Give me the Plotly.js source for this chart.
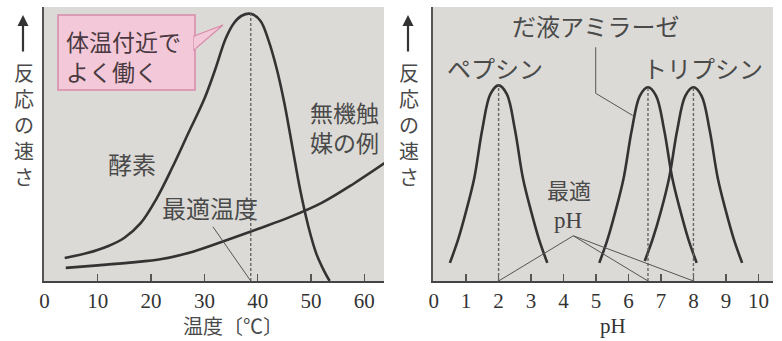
<!DOCTYPE html>
<html>
<head>
<meta charset="utf-8">
<script src="https://cdn.plot.ly/plotly-3.0.1.min.js"></script>
<style>html,body{margin:0;padding:0;background:#fff;}#chart{width:782px;height:341px;}</style>
</head>
<body>
<div id="chart"></div>
<script>
// ---- Data (y is relative reaction speed 0-100) ----
const tempEnzymeX = [3.8, 8, 12, 15, 18, 21, 24, 27, 30, 32, 34, 35.5, 37, 38.7, 40.5, 42, 43.5, 45, 46.5, 48, 49.5, 51, 52.5, 53.5];
const tempEnzymeY = [8.4, 10.2, 12.8, 15.8, 21, 30, 41.5, 54, 66.5, 77, 88.5, 94, 96.8, 97.5, 95, 88, 78, 65, 49, 33, 20, 10, 3.5, 0];
const tempCatalystX = [4, 10, 16, 22, 28, 34, 40, 46, 52, 58, 63.8];
const tempCatalystY = [4.8, 5.7, 6.7, 8, 10.8, 14.8, 19, 23.3, 28.5, 35.5, 43];

const pepsinX  = [0.5, 0.75, 1, 1.25, 1.5, 1.75, 2, 2.25, 2.5, 2.75, 3, 3.25, 3.5];
const pepsinY  = [6.6, 15, 25.5, 37.5, 55.5, 68.3, 71.4, 68.3, 55.5, 37.5, 25.5, 15, 6.6];
const amylaseX = [5.1, 5.35, 5.6, 5.85, 6.1, 6.35, 6.6, 6.85, 7.1, 7.35, 7.6, 7.85, 8.1];
const amylaseY = [6.6, 15, 25.5, 37.5, 55, 67.6, 70.7, 67.6, 55, 37.5, 25.5, 15, 6.6];
const trypsinX = [6.5, 6.75, 7, 7.25, 7.5, 7.75, 8, 8.25, 8.5, 8.75, 9, 9.25, 9.5];
const trypsinY = [7.3, 15.5, 25.5, 37.5, 55, 67.6, 70.7, 67.6, 55, 37.5, 25.5, 15, 6.6];

const tempTicks = [0, 10, 20, 30, 40, 50, 60];
const phTicks = [0, 1, 2, 3, 4, 5, 6, 7, 8, 9, 10];

const yTitleChars = ['反', '応', 'の', '速', 'さ'];
const leftXTitle = '温度〔℃〕';
const rightXTitle = 'pH';
const calloutLines = ['体温付近で', 'よく働く'];

// ---- helpers ----
const W = 782, H = 341;
const PX = x => x / W;
const PY = y => 1 - y / H;
const CJK = '"Noto Sans CJK JP", "Noto Sans", sans-serif';
const SERIF = '"Liberation Serif", "DejaVu Serif", serif';
const TXT = '#4a4a4a';
const CURVE = '#333333';

function peakOf(xs, ys) {
  let i = ys.indexOf(Math.max(...ys));
  return [xs[i], ys[i]];
}

const lineStyle = {color: CURVE, width: 2.6, shape: 'spline', smoothing: 1};
const traces = [
  {x: tempEnzymeX, y: tempEnzymeY, xaxis: 'x', yaxis: 'y', mode: 'lines', line: lineStyle, hoverinfo: 'skip'},
  {x: tempCatalystX, y: tempCatalystY, xaxis: 'x', yaxis: 'y', mode: 'lines', line: lineStyle, hoverinfo: 'skip'},
  {x: pepsinX, y: pepsinY, xaxis: 'x2', yaxis: 'y2', mode: 'lines', line: lineStyle, hoverinfo: 'skip'},
  {x: amylaseX, y: amylaseY, xaxis: 'x2', yaxis: 'y2', mode: 'lines', line: lineStyle, hoverinfo: 'skip'},
  {x: trypsinX, y: trypsinY, xaxis: 'x2', yaxis: 'y2', mode: 'lines', line: lineStyle, hoverinfo: 'skip'}
];

const shapes = [];
const dash = {color: '#666', width: 1.4, dash: '3px,2px'};
function vdash(xr, yr, p) {
  shapes.push({type: 'line', xref: xr, yref: yr, x0: p[0], x1: p[0], y0: 0, y1: p[1], line: dash, layer: 'above'});
}
vdash('x', 'y', peakOf(tempEnzymeX, tempEnzymeY));
vdash('x2', 'y2', peakOf(pepsinX, pepsinY));
vdash('x2', 'y2', peakOf(amylaseX, amylaseY));
vdash('x2', 'y2', peakOf(trypsinX, trypsinY));

const thin = {color: '#555', width: 1};
// 最適温度 leader
shapes.push({type: 'line', xref: 'x', yref: 'y', x0: 31.6, y0: 19.8, x1: peakOf(tempEnzymeX, tempEnzymeY)[0], y1: 0, line: thin});
// 最適pH leaders
[pepsinX, amylaseX, trypsinX].forEach((xs, k) => {
  const ys = [pepsinY, amylaseY, trypsinY][k];
  shapes.push({type: 'line', xref: 'x2', yref: 'y2', x0: 4.3, y0: 16.5, x1: peakOf(xs, ys)[0], y1: 0, line: thin});
});
// だ液アミラーゼ leader
shapes.push({type: 'path', xref: 'x2', yref: 'y2', path: 'M 4.99,85.3 L 4.99,68.5 L 6.13,60.4', line: thin});

// callout box
shapes.push({type: 'rect', xref: 'paper', yref: 'paper', x0: PX(58), x1: PX(195), y0: PY(90), y1: PY(15),
  fillcolor: '#f3c8d8', line: {color: '#d88aa9', width: 1.5}});
shapes.push({type: 'path', xref: 'paper', yref: 'paper',
  path: `M ${PX(194)},${PY(36)} L ${PX(223)},${PY(25)} L ${PX(194)},${PY(50)} Z`,
  fillcolor: '#f3c8d8', line: {color: '#d88aa9', width: 1.2}});
shapes.push({type: 'line', xref: 'paper', yref: 'paper', x0: PX(195), x1: PX(195), y0: PY(37.5), y1: PY(48.5),
  line: {color: '#f3c8d8', width: 2}});

const annotations = [];
function txt(t, x, y, size, opt) {
  annotations.push(Object.assign({text: t, xref: 'paper', yref: 'paper', x: PX(x), y: PY(y), showarrow: false,
    xanchor: 'center', yanchor: 'middle', font: {family: CJK, size: size, color: TXT}}, opt || {}));
}
// y-axis titles (vertical, one text block each)
[24, 409].forEach(cx => {
  txt(yTitleChars.join('<br>'), cx, 124, 20);
  annotations.push({text: '', xref: 'paper', yref: 'paper', x: PX(cx - 1), y: PY(15), ax: 0, ay: 38,
    showarrow: true, arrowhead: 2, arrowsize: 1, arrowwidth: 2.2, arrowcolor: '#333', standoff: 0});
});
// x-axis titles
txt(leftXTitle, 233, 325.5, 20);
txt(rightXTitle, 613, 326, 21, {font: {family: SERIF, size: 21, color: '#333'}});
// callout text
txt(calloutLines.join('<br>'), 64, 56, 23, {xanchor: 'left', align: 'left', font: {family: CJK, size: 23, color: '#4a3940'}});
// labels left
txt('酵素', 132, 163, 24);
txt('最適温度', 210, 207, 24);
txt('無機触<br>媒の例', 344, 127, 23);
// labels right
txt('ペプシン', 495, 67, 24);
txt('だ液アミラーゼ', 596, 25, 24);
txt('トリプシン', 703, 67, 24);
txt('最適', 569, 189, 22);
txt('pH', 568, 220, 23, {font: {family: SERIF, size: 23, color: '#444'}});

const xBase = {
  showline: true, linecolor: '#444', linewidth: 2, ticks: 'inside', ticklen: 7, tickwidth: 1.4, tickcolor: '#555',
  showgrid: false, zeroline: false, tickmode: 'array', fixedrange: true,
  tickfont: {family: SERIF, size: 21, color: '#333'}, anchor: 'y'
};
const yBase = {showline: true, linecolor: '#555', linewidth: 2, ticks: '', showticklabels: false, showgrid: false,
  zeroline: false, range: [0, 100], fixedrange: true};

const layout = {
  width: W, height: H, margin: {l: 0, r: 0, t: 0, b: 0},
  paper_bgcolor: '#ffffff', plot_bgcolor: '#dcdad6', showlegend: false,
  xaxis: Object.assign({}, xBase, {domain: [PX(44), PX(384)], range: [-0.09, 63.7], tickvals: tempTicks, ticktext: tempTicks.map(String), anchor: 'y'}),
  yaxis: Object.assign({}, yBase, {domain: [PY(281), PY(7)], anchor: 'x'}),
  xaxis2: Object.assign({}, xBase, {domain: [PX(433), PX(773)], range: [-0.02, 10.45], tickvals: phTicks, ticktext: phTicks.map(String), anchor: 'y2'}),
  yaxis2: Object.assign({}, yBase, {domain: [PY(281), PY(7)], anchor: 'x2'}),
  shapes: shapes, annotations: annotations
};

Plotly.newPlot('chart', traces, layout, {staticPlot: true, displayModeBar: false});
</script>
</body>
</html>
